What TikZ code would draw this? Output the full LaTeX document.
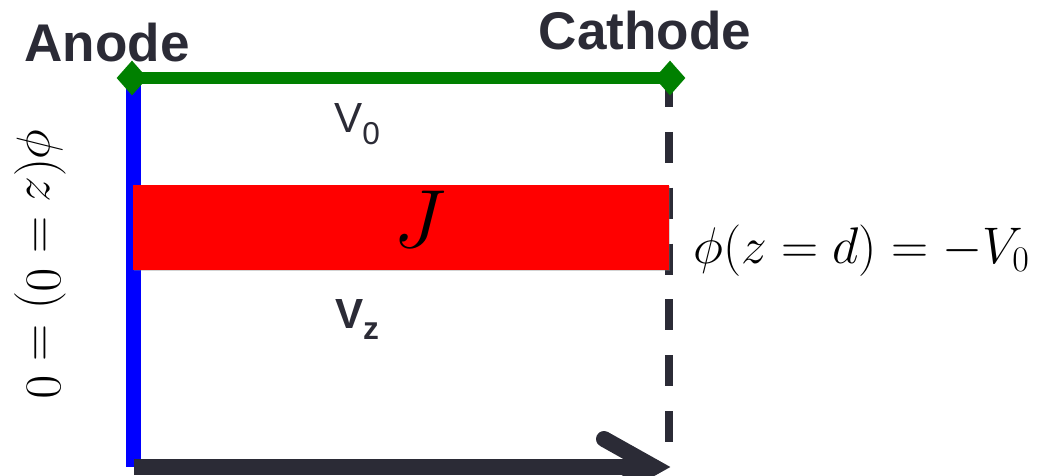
\RequirePackage{fix-cm}
\documentclass[tikz,border=0pt]{standalone}
\usepackage[no-math]{fontspec}
\usepackage{xcolor}
\usepackage{tikz}
\usetikzlibrary{shapes.geometric,shadows}
\newfontfamily\labelfont{Liberation Sans}
\definecolor{plategreen}{HTML}{008000}
\definecolor{anodeblue}{HTML}{0000FF}
\definecolor{beamred}{HTML}{FF0000}
\definecolor{inkdark}{HTML}{2B2B36}

\begin{document}
\begin{tikzpicture}[
    x=0.02cm, y=-0.02cm,
    every node/.style={
        inner sep=0pt,
        text=inkdark
    },
    terminal/.style={
        diamond,
        fill=plategreen,
        minimum width=0.62cm,
        minimum height=0.7cm
    },
    beam/.style={
        rectangle,
        fill=beamred,
        minimum width=10.72cm,
        minimum height=1.7cm,
        drop shadow={shadow xshift=0.6pt, shadow yshift=-0.8pt, opacity=0.35}
    },
    electrode/.style={
        line width=8.5pt,
        draw=anodeblue
    },
    plate/.style={
        line width=6.3pt,
        draw=plategreen
    },
    cathodeline/.style={
        line width=4.5pt,
        draw=inkdark,
        dash pattern=on 17.6pt off 14.2pt
    },
    axis/.style={
        line width=9.1pt,
        draw=inkdark
    },
    title/.style={
        font=\labelfont\bfseries\fontsize{30.2}{32}\selectfont
    },
    potential/.style={
        font=\labelfont\fontsize{24}{26}\selectfont
    },
    boundary/.style={
        text=black,
        font=\fontsize{29.3}{31}\selectfont
    }
]
\useasboundingbox (0,0) rectangle (1038,476);

\coordinate (anodetop) at (133.5,78);
\coordinate (anodebot) at (133.5,467);
\coordinate (cathodetop) at (669,76);
\coordinate (cathodebot) at (669,444);
\coordinate (zstart) at (134,467);
\coordinate (zend) at (654,467);

% electrodes
\draw[electrode] (anodetop) -- (anodebot);
\draw[cathodeline] (cathodetop) -- (cathodebot);

% space charge layer
\node[beam] (layer) at (401,227.5) {};
\node[text=black, font=\fontsize{47}{50}\selectfont, anchor=base] (current) at (420,248) {$J$};

% applied voltage
\coordinate (anodepin) at (132,78);
\coordinate (cathodepin) at (670,78);
\draw[plate] (anodepin) -- (cathodepin);
\node[terminal] (anodeterm) at (anodepin) {};
\node[terminal] (cathodeterm) at (cathodepin) {};

% z axis
\draw[axis] (zstart) -- (zend);
\draw[axis, line cap=round] ([shift={(-50,-28)}]zend) -- (zend) -- ([shift={(-50,28)}]zend);

\node[title, anchor=base] (anode) at (107,62) {Anode};
\node[title, anchor=base] (cathode) at (645,50) {Cathode};
\node[potential, anchor=base] (vzero) at (357,133) {V\raisebox{-6.3pt}{\fontsize{18}{18}\selectfont 0}};
\node[potential, font=\labelfont\bfseries\fontsize{24}{26}\selectfont, anchor=base] (vzed) at (357,328) {V\raisebox{-6.3pt}{\fontsize{18}{18}\selectfont z}};
\node[boundary, anchor=west] (cathodebc) at (693,251) {$\phi(z=d)=-V_0$};
\node[boundary, rotate=-90] (anodebc) at (40,264) {$\phi(z=0)=0$};

\end{tikzpicture}
\end{document}
